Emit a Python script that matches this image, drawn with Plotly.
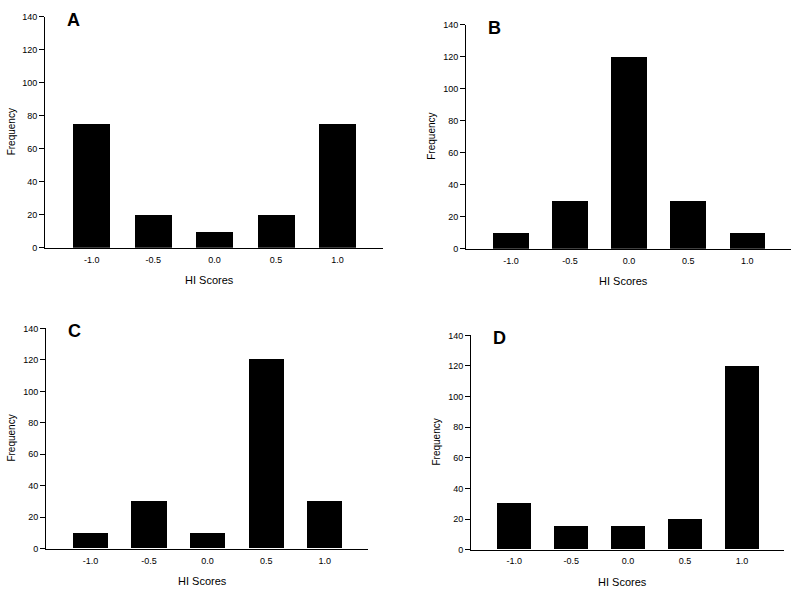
import plotly.graph_objects as go

categories = [-1.0, -0.5, 0.0, 0.5, 1.0]
tick_labels = ["-1.0", "-0.5", "0.0", "0.5", "1.0"]
panel_a = [75, 20, 10, 20, 75]
panel_b = [10, 30, 120, 30, 10]
panel_c = [10, 30, 10, 120, 30]
panel_d = [30, 15, 15, 20, 120]
panel_letters = ["A", "B", "C", "D"]
y_ticks = [0, 20, 40, 60, 80, 100, 120, 140]

W, H = 800, 595
# pixel boxes in window coords: (left, right, top, bottom)
boxes = [(45, 383, 12, 247), (466, 791, 20, 248), (46, 368, 329, 553), (471, 784, 336, 554)]
series = [panel_a, panel_b, panel_c, panel_d]


def px(x):
    return x / W


def py(y):
    return 1 - y / H


fig = go.Figure()
FONT = "Liberation Sans, Arial, sans-serif"
annotations = []
for i, (vals, box) in enumerate(zip(series, boxes)):
    l, r, t, b = box
    xa = "x" if i == 0 else f"x{i+1}"
    ya = "y" if i == 0 else f"y{i+1}"
    fig.add_trace(go.Bar(x=categories, y=vals, width=0.3, marker=dict(color="black", line=dict(width=0)),
                         xaxis=xa, yaxis=ya, showlegend=False))
    xkey = "xaxis" if i == 0 else f"xaxis{i+1}"
    ykey = "yaxis" if i == 0 else f"yaxis{i+1}"
    fig.update_layout(**{
        xkey: dict(domain=[px(l), px(r)], anchor=ya, range=[-1.38, 1.37], showline=True, linecolor="black",
                   linewidth=1, ticks="outside", ticklen=3, tickcolor="rgba(0,0,0,0)", tickvals=categories,
                   ticktext=tick_labels, showgrid=False,
                   zeroline=False, tickfont=dict(family=FONT, size=9, color="black")),
        ykey: dict(domain=[py(b), py(t)], anchor=xa, range=[0, 140], showline=True, linecolor="black",
                   linewidth=1, ticks="outside", ticklen=5, tickwidth=1, tickcolor="black", tickvals=y_ticks,
                   showgrid=False, zeroline=False, tickfont=dict(family=FONT, size=9, color="black")),
    })
    annotations.append(dict(text="Frequency", x=px(l - 34), y=py((t + b) / 2), xref="paper", yref="paper",
                            textangle=-90, showarrow=False, xanchor="center", yanchor="middle",
                            font=dict(family=FONT, size=10, color="black")))
    annotations.append(dict(text="HI Scores", x=px((l + r) / 2 - 5), y=py(b + 33), xref="paper", yref="paper",
                            showarrow=False, xanchor="center", yanchor="middle",
                            font=dict(family=FONT, size=11, color="black")))
    annotations.append(dict(text="<b>" + panel_letters[i] + "</b>", x=px(l + 28), y=py(t + 3),
                            xref="paper", yref="paper", showarrow=False, xanchor="center", yanchor="middle",
                            font=dict(family=FONT, size=18, color="black")))

fig.update_layout(width=W, height=H, margin=dict(l=0, r=0, t=0, b=0), paper_bgcolor="white",
                  plot_bgcolor="white", annotations=annotations, bargap=0)
fig.write_html("out.html", config={"displayModeBar": False},
               post_script="document.body.style.margin='0';document.body.style.overflow='hidden';")
